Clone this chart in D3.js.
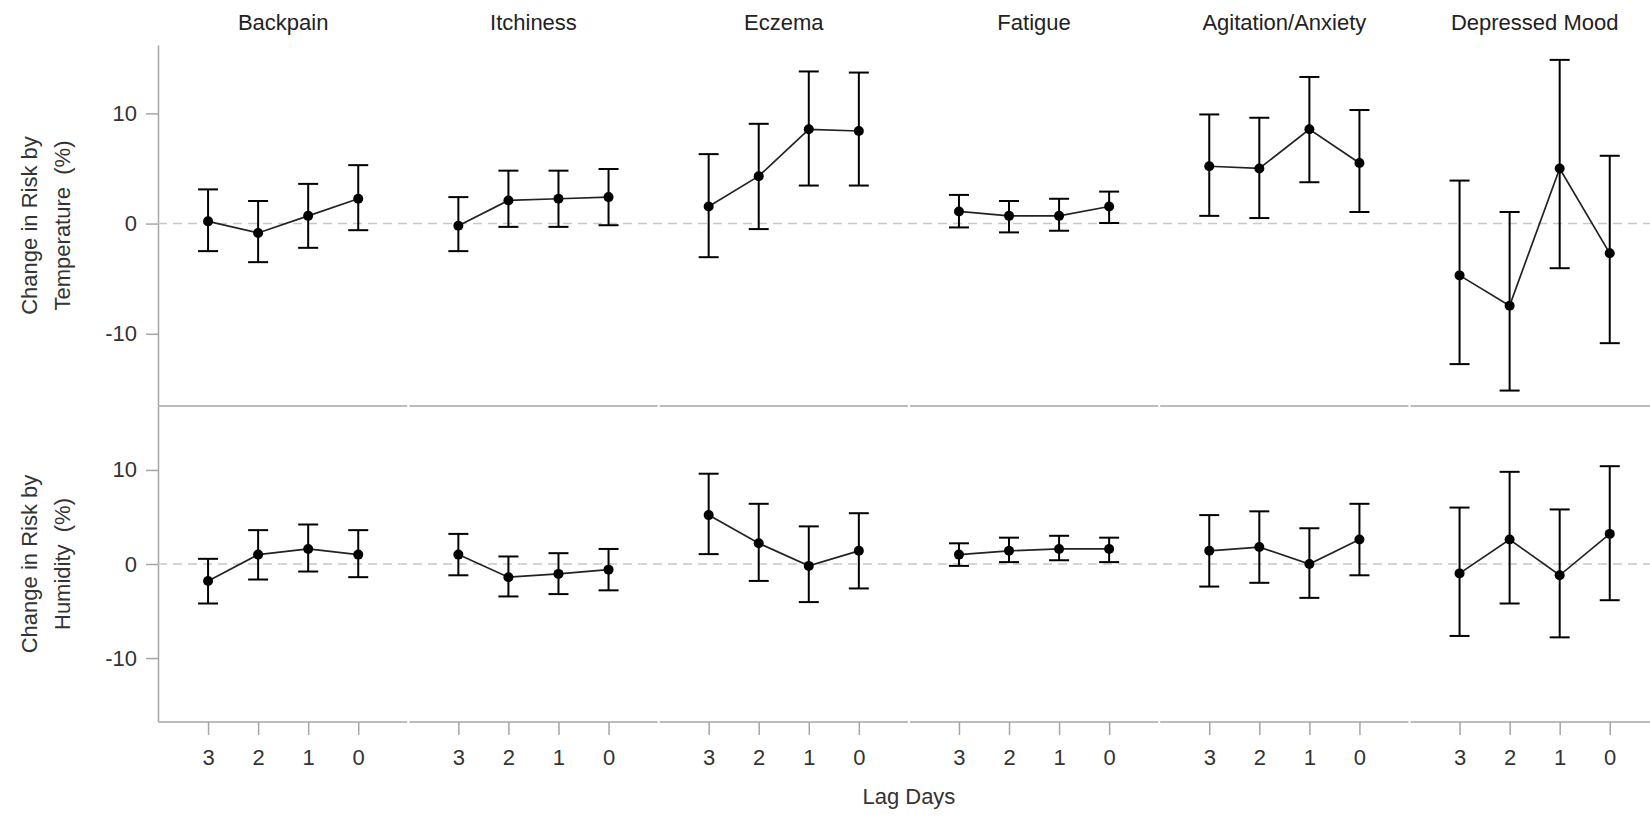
<!DOCTYPE html>
<html>
<head>
<meta charset="utf-8">
<script src="https://cdn.jsdelivr.net/npm/d3@7"></script>
<style>
  body { margin: 0; background: #fff; }
  text { font-family: "Liberation Sans", Arial, sans-serif; }
</style>
</head>
<body>
<div id="chart"></div>
<script>
// Panels and x categories
const symptoms = ["Backpain", "Itchiness", "Eczema", "Fatigue", "Agitation/Anxiety", "Depressed Mood"];
const lagDays = ["3", "2", "1", "0"];
const yTicks = [-10, 0, 10];

// Temperature row (lag 3, 2, 1, 0 for each symptom)
const tempEst  = [[0.2, -0.85, 0.7, 2.25], [-0.2, 2.1, 2.25, 2.4], [1.55, 4.3, 8.55, 8.4],
                  [1.1, 0.7, 0.7, 1.55], [5.2, 5.0, 8.55, 5.5], [-4.7, -7.45, 5.0, -2.7]];
const tempLow  = [[-2.5, -3.5, -2.2, -0.6], [-2.5, -0.3, -0.3, -0.15], [-3.05, -0.5, 3.45, 3.45],
                  [-0.35, -0.8, -0.65, 0.05], [0.7, 0.5, 3.75, 1.05], [-12.75, -15.15, -4.05, -10.85]];
const tempHigh = [[3.1, 2.05, 3.6, 5.3], [2.4, 4.8, 4.8, 4.95], [6.3, 9.05, 13.8, 13.7],
                  [2.6, 2.05, 2.25, 2.9], [9.9, 9.6, 13.3, 10.3], [3.9, 1.05, 14.85, 6.15]];

// Humidity row
const humEst  = [[-1.8, 1.0, 1.6, 1.0], [1.0, -1.4, -1.05, -0.6], [5.2, 2.2, -0.2, 1.4],
                 [1.0, 1.4, 1.6, 1.6], [1.4, 1.8, 0.0, 2.6], [-1.0, 2.6, -1.2, 3.2]];
const humLow  = [[-4.2, -1.65, -0.8, -1.4], [-1.2, -3.45, -3.2, -2.8], [1.05, -1.8, -4.05, -2.6],
                 [-0.2, 0.2, 0.4, 0.2], [-2.4, -2.0, -3.6, -1.2], [-7.65, -4.2, -7.8, -3.85]];
const humHigh = [[0.55, 3.6, 4.2, 3.6], [3.2, 0.8, 1.15, 1.6], [9.6, 6.4, 4.0, 5.4],
                 [2.2, 2.8, 3.0, 2.8], [5.2, 5.6, 3.8, 6.4], [6.0, 9.8, 5.8, 10.4]];

const rowLabels = [["Change in Risk by", "Temperature  (%)"], ["Change in Risk by", "Humidity  (%)"]];

const width = 1650, height = 817;
const left = 158, panelW = 250.3;
const axisColor = "#a6a6a6";

const svg = d3.select("#chart").append("svg")
    .attr("width", width)
    .attr("height", height);

// Scales
const xPanel = d3.scaleBand()
    .domain(symptoms)
    .range([left, left + panelW * symptoms.length]);

const xLag = d3.scalePoint()
    .domain(lagDays)
    .range([0, xPanel.bandwidth()])
    .padding(1);

const rows = [
    { est: tempEst, low: tempLow, high: tempHigh,
      y: d3.scaleLinear().domain([-16.55, 16.2]).range([406, 45]) },
    { est: humEst, low: humLow, high: humHigh,
      y: d3.scaleLinear().domain([-16.8, 16.8]).range([722, 406]) }
];

rows.forEach((row, r) => {
    const y = row.y;
    const [yBottom, yTop] = y.range();

    // y axis
    const yAxis = svg.append("g")
        .attr("transform", `translate(${left},0)`)
        .call(d3.axisLeft(y).tickValues(yTicks).tickFormat(d => String(d))
            .tickSize(12).tickPadding(9).tickSizeOuter(0));
    yAxis.select(".domain").attr("stroke", axisColor).attr("stroke-width", 1.5);
    yAxis.selectAll(".tick line").attr("stroke", axisColor).attr("stroke-width", 1.5);
    yAxis.selectAll(".tick text")
        .attr("fill", "#333")
        .style("font-size", "22px")
        .style("font-family", "'Liberation Sans', Arial, sans-serif");

    // row label (two lines)
    const yc = (yTop + yBottom) / 2;
    rowLabels[r].forEach((line, i) => {
        svg.append("text")
            .attr("transform", `translate(${37 + i * 33},${yc}) rotate(-90)`)
            .attr("text-anchor", "middle")
            .attr("fill", "#333")
            .style("font-size", "22px")
            .style("white-space", "pre")
            .text(line);
    });

    // zero reference
    svg.append("line")
        .attr("x1", left).attr("x2", width)
        .attr("y1", y(0)).attr("y2", y(0))
        .attr("stroke", "#c8c8c8")
        .attr("stroke-width", 1.5)
        .attr("stroke-dasharray", "9,6");

    symptoms.forEach((s, k) => {
        const x0 = xPanel(s);
        const g = svg.append("g").attr("transform", `translate(${x0},0)`);

        // panel bottom border
        g.append("line")
            .attr("x1", 1).attr("x2", xPanel.bandwidth() - 1)
            .attr("y1", yBottom).attr("y2", yBottom)
            .attr("stroke", axisColor)
            .attr("stroke-width", 1.5);

        const pts = lagDays.map((lag, i) => ({
            lag, est: row.est[k][i], low: row.low[k][i], high: row.high[k][i]
        }));

        // error bars
        const bars = g.selectAll(".err").data(pts).enter().append("g").attr("class", "err");
        bars.append("line")
            .attr("x1", d => xLag(d.lag)).attr("x2", d => xLag(d.lag))
            .attr("y1", d => y(d.low)).attr("y2", d => y(d.high));
        bars.append("line")
            .attr("x1", d => xLag(d.lag) - 10).attr("x2", d => xLag(d.lag) + 10)
            .attr("y1", d => y(d.low)).attr("y2", d => y(d.low));
        bars.append("line")
            .attr("x1", d => xLag(d.lag) - 10).attr("x2", d => xLag(d.lag) + 10)
            .attr("y1", d => y(d.high)).attr("y2", d => y(d.high));
        bars.selectAll("line").attr("stroke", "#000").attr("stroke-width", 2);

        // connecting line
        g.append("path")
            .datum(pts)
            .attr("fill", "none")
            .attr("stroke", "#222")
            .attr("stroke-width", 1.7)
            .attr("d", d3.line().x(d => xLag(d.lag)).y(d => y(d.est)));

        // points
        g.selectAll(".pt").data(pts).enter().append("circle")
            .attr("class", "pt")
            .attr("cx", d => xLag(d.lag))
            .attr("cy", d => y(d.est))
            .attr("r", 5)
            .attr("fill", "#000");

        // panel title
        if (r === 0) {
            g.append("text")
                .attr("x", xPanel.bandwidth() / 2)
                .attr("y", 30)
                .attr("text-anchor", "middle")
                .attr("fill", "#222")
                .style("font-size", "22px")
                .text(s);
        }

        // x axis on the bottom row
        if (r === 1) {
            const xAxis = g.append("g")
                .attr("transform", `translate(0,${yBottom})`)
                .call(d3.axisBottom(xLag).tickSize(13).tickPadding(14));
            xAxis.select(".domain").remove();
            xAxis.selectAll(".tick line").attr("stroke", axisColor).attr("stroke-width", 1.5);
            xAxis.selectAll(".tick text")
                .attr("fill", "#333")
                .style("font-size", "22px")
                .style("font-family", "'Liberation Sans', Arial, sans-serif");
        }
    });
});

// x axis title
svg.append("text")
    .attr("x", left + panelW * 3)
    .attr("y", 804)
    .attr("text-anchor", "middle")
    .attr("fill", "#333")
    .style("font-size", "22px")
    .text("Lag Days");
</script>
</body>
</html>
